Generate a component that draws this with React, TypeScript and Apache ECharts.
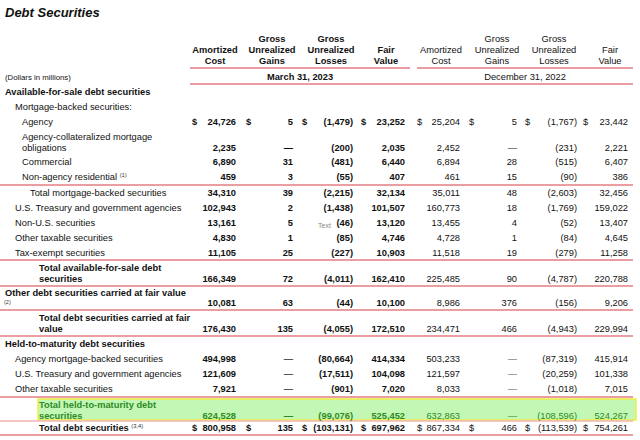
import React, { useEffect, useRef } from "react";
import * as echarts from "echarts";

// ---------- Data ----------
const title = "Debt Securities";
const periods = ["March 31, 2023", "December 31, 2022"];
const columnHeaders = [
  ["Amortized", "Cost"],
  ["Gross", "Unrealized", "Gains"],
  ["Gross", "Unrealized", "Losses"],
  ["Fair", "Value"],
];
const unitsNote = "(Dollars in millions)";
const sectionHeadings = [
  "Available-for-sale debt securities",
  "Mortgage-backed securities:",
  "Held-to-maturity debt securities",
];
const rowLabels: string[][] = [
  ["Agency"],
  ["Agency-collateralized mortgage", "obligations"],
  ["Commercial"],
  ["Non-agency residential"],
  ["Total mortgage-backed securities"],
  ["U.S. Treasury and government agencies"],
  ["Non-U.S. securities"],
  ["Other taxable securities"],
  ["Tax-exempt securities"],
  ["Total available-for-sale debt", "securities"],
  ["Other debt securities carried at fair value"],
  ["Total debt securities carried at fair", "value"],
  ["Agency mortgage-backed securities"],
  ["U.S. Treasury and government agencies"],
  ["Other taxable securities"],
  ["Total held-to-maturity debt", "securities"],
  ["Total debt securities"],
];
const rowNotes: (string | null)[] = [
  null, null, null, "(1)", null, null, null, null, null, null, "(2)", null, null, null, null, null, "(3,4)",
];
const dollarRows = [0, 16];

const mar23AmortizedCost = [24726, 2235, 6890, 459, 34310, 102943, 13161, 4830, 11105, 166349, 10081, 176430, 494998, 121609, 7921, 624528, 800958];
const mar23GrossGains = [5, null, 31, 3, 39, 2, 5, 1, 25, 72, 63, 135, null, null, null, null, 135];
const mar23GrossLosses = [-1479, -200, -481, -55, -2215, -1438, -46, -85, -227, -4011, -44, -4055, -80664, -17511, -901, -99076, -103131];
const mar23FairValue = [23252, 2035, 6440, 407, 32134, 101507, 13120, 4746, 10903, 162410, 10100, 172510, 414334, 104098, 7020, 525452, 697962];
const dec22AmortizedCost = [25204, 2452, 6894, 461, 35011, 160773, 13455, 4728, 11518, 225485, 8986, 234471, 503233, 121597, 8033, 632863, 867334];
const dec22GrossGains = [5, null, 28, 15, 48, 18, 4, 1, 19, 90, 376, 466, null, null, null, null, 466];
const dec22GrossLosses = [-1767, -231, -515, -90, -2603, -1769, -52, -84, -279, -4787, -156, -4943, -87319, -20259, -1018, -108596, -113539];
const dec22FairValue = [23442, 2221, 6407, 386, 32456, 159022, 13407, 4645, 11258, 220788, 9206, 229994, 415914, 101338, 7015, 524267, 754261];

const valueColumns = [
  mar23AmortizedCost, mar23GrossGains, mar23GrossLosses, mar23FairValue,
  dec22AmortizedCost, dec22GrossGains, dec22GrossLosses, dec22FairValue,
];

// ---------- Layout ----------
const FONT = "'Liberation Sans', Arial, Helvetica, sans-serif";
const FS = 9.3;
const RED = "#e37e82";
const GREEN_TXT = "#2f8a25";
const colDollarX = [192, 246, 302, 361, 417, 469, 525, 583];
const colRightX = [236, 293, 353, 405, 460, 517, 577, 628];
const colCenterX = [215, 272, 331, 386, 441, 497, 554, 610];
const rowIndent = [22, 22, 22, 22, 30, 15, 15, 15, 15, 39, 5, 39, 15, 15, 15, 39, 39];
const rowLabelY = [122, 137, 162, 177, 193, 208, 223, 238, 253, 268, 293, 318, 359, 374, 389, 405, 428];
const rowValueY = [122, 148, 162, 177, 193, 208, 223, 238, 253, 279, 303, 329, 359, 374, 389, 416, 428];
const boldLabelRows = [9, 10, 11, 15, 16];
const sepLines = [185, 260, 286, 310, 336, 397, 435];

function fmt(v: number | null): string {
  if (v === null) return "\u2014";
  const s = Math.abs(v).toLocaleString("en-US");
  return v < 0 ? `(${s})` : s;
}

function txt(text: string, x: number, y: number, opts: any = {}) {
  const align = opts.align || "left";
  return {
    type: "text",
    x,
    y,
    silent: true,
    style: {
      text,
      fontFamily: FONT,
      fontSize: opts.fontSize || FS,
      fontWeight: opts.bold ? "bold" : "normal",
      fontStyle: opts.italic ? "italic" : "normal",
      fill: opts.color || "#111",
      align,
      textAlign: align,
      verticalAlign: "middle",
      textVerticalAlign: "middle",
      rich: opts.rich,
    },
    z: 10,
  };
}

function hline(x1: number, x2: number, y: number, color = RED, w = 1.5) {
  return {
    type: "line",
    silent: true,
    shape: { x1, y1: y, x2, y2: y },
    style: { stroke: color, lineWidth: w },
    z: 5,
  };
}

function buildGraphics() {
  const els: any[] = [];
  els.push({ type: "rect", shape: { x: 0, y: 0, width: 640, height: 440 }, style: { fill: "#fff" }, z: 0, silent: true });
  els.push(txt(title, 5, 12, { bold: true, italic: true, fontSize: 13 }));

  columnHeaders.forEach((lines, ci) => {
    [0, 4].forEach((off) => {
      const c = ci + off;
      const n = lines.length;
      lines.forEach((ln, li) => {
        const y = 61 - (n - 1 - li) * 11;
        els.push(txt(ln, colCenterX[c], y, { align: "center", bold: off === 0 }));
      });
    });
  });
  els.push(hline(190, 410, 68));
  els.push(hline(417, 633, 68));
  els.push(txt(periods[0], 300, 77, { align: "center", bold: true }));
  els.push(txt(periods[1], 525, 77, { align: "center" }));
  els.push(hline(190, 633, 84));
  els.push(txt(unitsNote, 5, 77, { fontSize: 7.8 }));

  els.push(txt(sectionHeadings[0], 5, 92, { bold: true }));
  els.push(txt(sectionHeadings[1], 15, 107));
  els.push(txt(sectionHeadings[2], 5, 344, { bold: true }));

  els.push({
    type: "rect",
    silent: true,
    shape: { x: 38, y: 399, width: 598, height: 21 },
    style: { fill: "#c3f7b6", stroke: "#eeee44", lineWidth: 1.5 },
    z: 2,
  });

  sepLines.forEach((y) => els.push(hline(0, 633, y)));
  els.push(hline(0, 633, 421, "#f2b3b3", 1.5));

  rowLabels.forEach((lines, ri) => {
    const bold = boldLabelRows.includes(ri);
    const green = ri === 15;
    const color = green ? GREEN_TXT : "#111";
    const note = rowNotes[ri];
    lines.forEach((ln, li) => {
      const isLast = li === lines.length - 1;
      if (note && isLast && ri !== 10) {
        els.push(
          txt(`${ln} {s|${note}}`, rowIndent[ri], rowLabelY[ri] + li * 11, {
            bold,
            color,
            rich: { s: { fontSize: 5.8, fontFamily: FONT, fill: "#333", padding: [0, 0, 5, 0] } },
          })
        );
      } else {
        els.push(txt(ln, rowIndent[ri], rowLabelY[ri] + li * 11, { bold, color }));
      }
    });
    if (ri === 10 && note) {
      els.push(txt(note, 4, 302, { fontSize: 5.5, color: "#333" }));
    }
    valueColumns.forEach((col, ci) => {
      const v = col[ri] as number | null;
      const isMar = ci < 4;
      els.push(
        txt(fmt(v), colRightX[ci], rowValueY[ri], {
          align: "right",
          bold: isMar,
          color: green ? GREEN_TXT : v === null && ri >= 12 ? "#555" : "#111",
        })
      );
      if (dollarRows.includes(ri)) {
        els.push(txt("$", colDollarX[ci], rowValueY[ri], { bold: isMar }));
      }
    });
  });

  els.push(txt("Text", 318, 225, { fontSize: 7, color: "#888" }));
  return els;
}

export default function App() {
  const ref = useRef<HTMLDivElement>(null);
  useEffect(() => {
    if (!ref.current) return;
    const chart = echarts.init(ref.current, undefined, { renderer: "svg" });
    chart.setOption({
      animation: false,
      backgroundColor: "#ffffff",
      graphic: { elements: buildGraphics() },
    });
    return () => chart.dispose();
  }, []);
  return (
    <div
      ref={ref}
      style={{ position: "fixed", left: 0, top: 0, width: 640, height: 440, background: "#fff" }}
    />
  );
}
